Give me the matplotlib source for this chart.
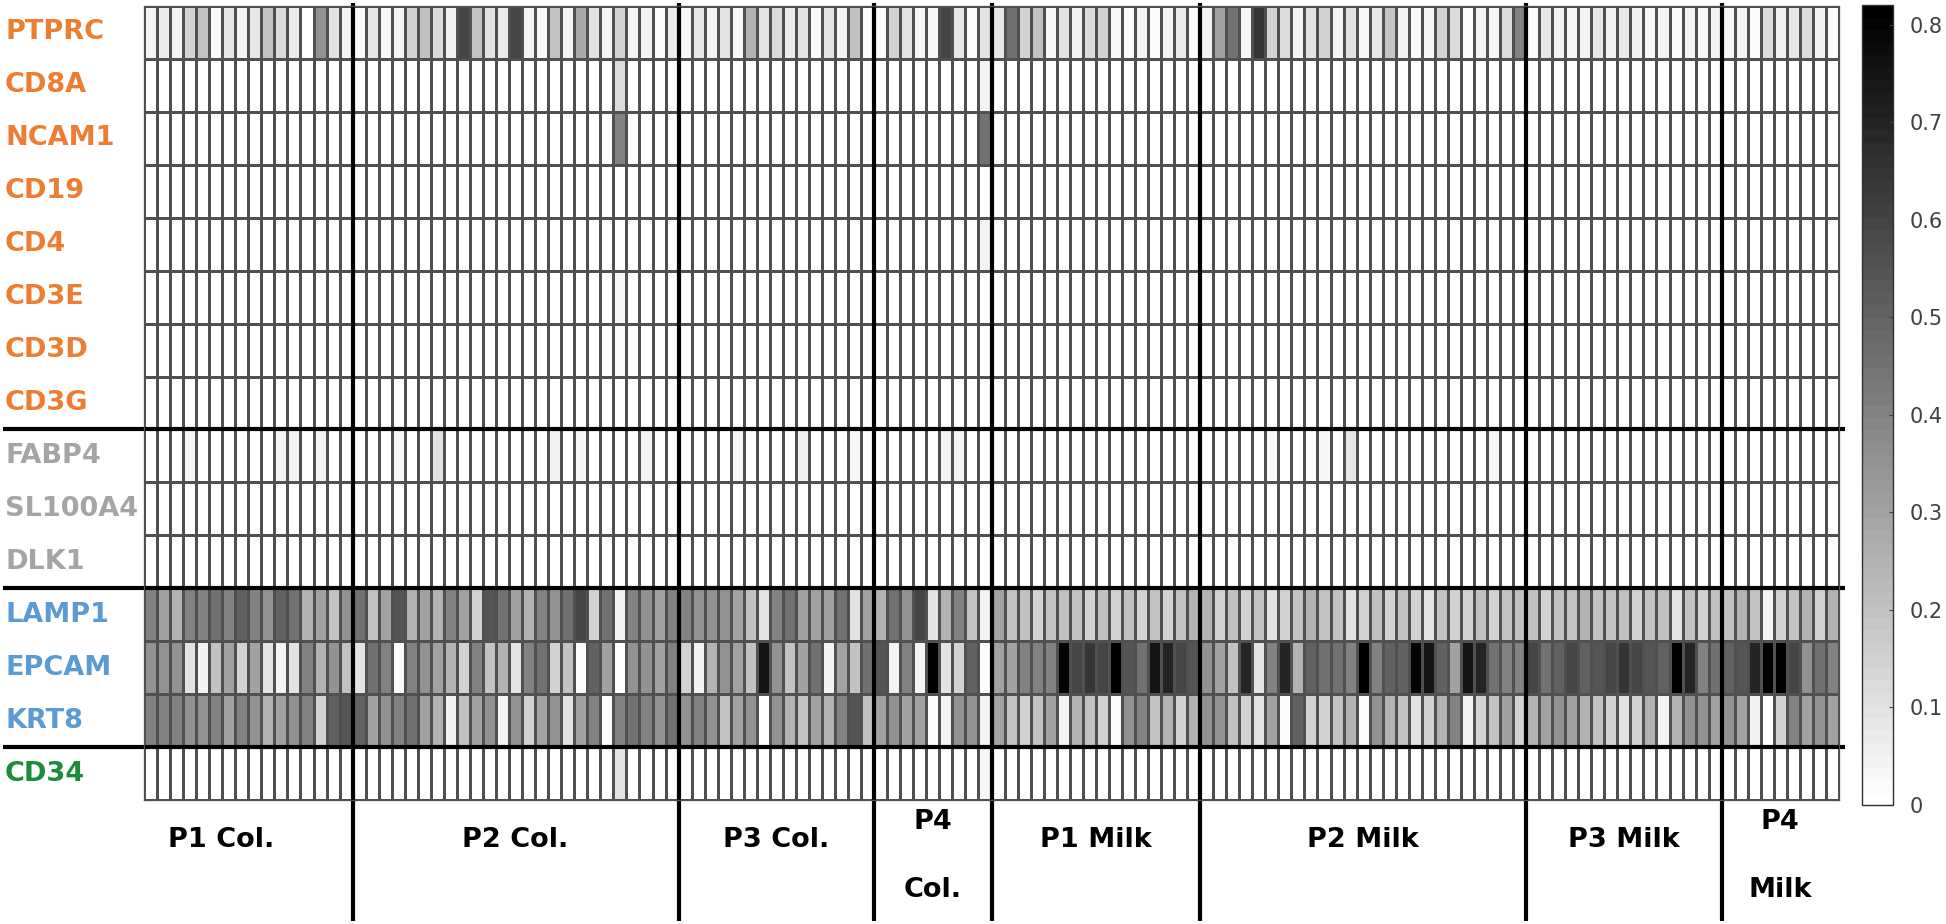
import numpy as np
import matplotlib
matplotlib.use('Agg')
import matplotlib.pyplot as plt
from matplotlib.colors import LinearSegmentedColormap

### DATA
genes = ['PTPRC', 'CD8A', 'NCAM1', 'CD19', 'CD4', 'CD3E', 'CD3D', 'CD3G',
         'FABP4', 'SL100A4', 'DLK1', 'LAMP1', 'EPCAM', 'KRT8', 'CD34']
gene_colors = ['#ED7D31'] * 8 + ['#A5A5A5'] * 3 + ['#5B9BD5'] * 3 + ['#1E8A3C']
groups = ['P1 Col.', 'P2 Col.', 'P3 Col.', 'P4\nCol.', 'P1 Milk', 'P2 Milk', 'P3 Milk', 'P4\nMilk']
group_sizes = [16, 25, 15, 9, 16, 25, 15, 9]
ncols = sum(group_sizes)

ptprc = [0.05, 0.07, 0.05, 0.15, 0.2, 0.02, 0.08, 0.05, 0.08, 0.2, 0.12, 0.07, 0.0, 0.35, 0.1, 0.05,
         0.02, 0.08, 0.03, 0.05, 0.15, 0.2, 0.12, 0.05, 0.6, 0.2, 0.1, 0.07, 0.6, 0.05, 0.03, 0.2, 0.05,
         0.28, 0.1, 0.05, 0.15, 0.05, 0.05, 0.02, 0.07,
         0.03, 0.08, 0.05, 0.1, 0.03, 0.25, 0.1, 0.12, 0.07, 0.1, 0.02, 0.1, 0.05, 0.2, 0.02,
         0.02, 0.15, 0.1, 0.03, 0.03, 0.6, 0.08, 0.02, 0.1,
         0.08, 0.45, 0.15, 0.2, 0.03, 0.1, 0.05, 0.12, 0.15, 0.03, 0.02, 0.05, 0.02, 0.05, 0.07, 0.02,
         0.05, 0.3, 0.45, 0.03, 0.65, 0.15, 0.12, 0.05, 0.1, 0.15, 0.05, 0.1, 0.03, 0.08, 0.18, 0.05,
         0.02, 0.03, 0.15, 0.12, 0.02, 0.05, 0.03, 0.12, 0.4,
         0.02, 0.08, 0.05, 0.03, 0.05, 0.08, 0.05, 0.08, 0.05, 0.03, 0.05, 0.02, 0.05, 0.03, 0.05,
         0.03, 0.05, 0.02, 0.12, 0.05, 0.08, 0.12, 0.05, 0.02]

lamp1 = [0.4, 0.3, 0.25, 0.4, 0.4, 0.45, 0.4, 0.5, 0.4, 0.35, 0.5, 0.45, 0.25, 0.3, 0.2, 0.35,
         0.45, 0.2, 0.3, 0.55, 0.25, 0.3, 0.25, 0.4, 0.3, 0.15, 0.55, 0.45, 0.3, 0.25, 0.4, 0.35, 0.45,
         0.6, 0.15, 0.45, 0.05, 0.4, 0.35, 0.3, 0.4,
         0.4, 0.35, 0.35, 0.35, 0.3, 0.2, 0.1, 0.4, 0.45, 0.3, 0.3, 0.3, 0.45, 0.1, 0.3,
         0.25, 0.45, 0.35, 0.6, 0.1, 0.25, 0.4, 0.2, 0.05,
         0.3, 0.2, 0.2, 0.15, 0.2, 0.2, 0.2, 0.15, 0.2, 0.15, 0.2, 0.15, 0.2, 0.15, 0.2, 0.25,
         0.25, 0.15, 0.2, 0.15, 0.2, 0.1, 0.15, 0.2, 0.25, 0.2, 0.2, 0.1, 0.15, 0.2, 0.15, 0.2,
         0.15, 0.1, 0.2, 0.15, 0.15, 0.2, 0.15, 0.2, 0.2,
         0.2, 0.15, 0.2, 0.2, 0.25, 0.2, 0.2, 0.2, 0.15, 0.2, 0.2, 0.1, 0.2, 0.15, 0.2,
         0.2, 0.25, 0.2, 0.05, 0.15, 0.2, 0.25, 0.15, 0.25]

epcam = [0.35, 0.35, 0.35, 0.1, 0.05, 0.2, 0.3, 0.15, 0.3, 0.1, 0.05, 0.1, 0.4, 0.25, 0.35, 0.2,
         0.1, 0.45, 0.4, 0.02, 0.4, 0.35, 0.3, 0.25, 0.15, 0.4, 0.2, 0.25, 0.1, 0.4, 0.45, 0.15, 0.2,
         0.02, 0.5, 0.3, 0.0, 0.35, 0.35, 0.3, 0.4,
         0.15, 0.05, 0.25, 0.35, 0.3, 0.2, 0.75, 0.35, 0.2, 0.3, 0.45, 0.05, 0.3, 0.2, 0.45,
         0.55, 0.05, 0.4, 0.05, 0.82, 0.1, 0.15, 0.5, 0.0,
         0.3, 0.3, 0.4, 0.4, 0.4, 0.8, 0.6, 0.65, 0.6, 0.85, 0.55, 0.45, 0.75, 0.7, 0.6, 0.55,
         0.35, 0.3, 0.2, 0.7, 0.1, 0.4, 0.7, 0.25, 0.5, 0.45, 0.45, 0.4, 0.85, 0.4, 0.5, 0.5,
         0.8, 0.75, 0.5, 0.3, 0.75, 0.7, 0.45, 0.4, 0.4,
         0.6, 0.45, 0.5, 0.6, 0.5, 0.55, 0.6, 0.65, 0.6, 0.55, 0.5, 0.85, 0.7, 0.4, 0.45,
         0.5, 0.55, 0.7, 0.85, 0.85, 0.6, 0.35, 0.45, 0.4]

krt8 = [0.4, 0.4, 0.4, 0.35, 0.35, 0.4, 0.3, 0.4, 0.35, 0.25, 0.3, 0.35, 0.4, 0.15, 0.5, 0.55,
        0.5, 0.3, 0.35, 0.4, 0.45, 0.3, 0.25, 0.05, 0.2, 0.3, 0.35, 0.05, 0.35, 0.15, 0.3, 0.35, 0.1,
        0.3, 0.4, 0.0, 0.4, 0.45, 0.4, 0.35, 0.45,
        0.35, 0.4, 0.35, 0.2, 0.3, 0.35, 0.0, 0.35, 0.25, 0.2, 0.3, 0.25, 0.4, 0.55, 0.2,
        0.3, 0.35, 0.3, 0.3, 0.02, 0.05, 0.35, 0.35, 0.05,
        0.3, 0.2, 0.15, 0.2, 0.3, 0.05, 0.25, 0.2, 0.15, 0.02, 0.35, 0.4, 0.2, 0.25, 0.15, 0.25,
        0.35, 0.35, 0.2, 0.15, 0.1, 0.3, 0.02, 0.5, 0.15, 0.15, 0.2, 0.25, 0.02, 0.35, 0.25, 0.2,
        0.1, 0.15, 0.25, 0.4, 0.05, 0.15, 0.2, 0.3, 0.15,
        0.25, 0.3, 0.35, 0.3, 0.25, 0.2, 0.15, 0.1, 0.15, 0.25, 0.05, 0.25, 0.35, 0.35, 0.3,
        0.35, 0.3, 0.05, 0.0, 0.15, 0.4, 0.3, 0.35, 0.3]

# sparse rows: {column index: value}, everything else is 0
cd8a = {36: 0.12, 64: 0.05}
ncam1 = {36: 0.4, 64: 0.45}
cd19 = {}
cd4 = {64: 0.05}
cd3e = {36: 0.03}
cd3d = {36: 0.02}
cd3g = {}
fabp4 = {3: 0.03, 10: 0.04, 11: 0.04, 13: 0.04, 19: 0.03, 22: 0.1, 31: 0.04, 33: 0.03, 38: 0.04,
         45: 0.03, 50: 0.04, 54: 0.03, 61: 0.04, 62: 0.04, 65: 0.02, 86: 0.02, 90: 0.03,
         92: 0.08, 103: 0.03}
sl100a4 = {}
dlk1 = {}
cd34 = {36: 0.1, 64: 0.03}

### BUILD MATRIX
def sparse_row(d):
    row = np.zeros(ncols)
    for k, v in d.items():
        row[k] = v
    return row

data = np.vstack([ptprc, sparse_row(cd8a), sparse_row(ncam1), sparse_row(cd19), sparse_row(cd4),
                  sparse_row(cd3e), sparse_row(cd3d), sparse_row(cd3g), sparse_row(fabp4),
                  sparse_row(sl100a4), sparse_row(dlk1), lamp1, epcam, krt8, sparse_row(cd34)])

### PLOT
W, H = 1946, 924
fig = plt.figure(figsize=(W / 100, H / 100), dpi=100)
x0, x1, y0, y1 = 144, 1839, 6, 800
ax = fig.add_axes([x0 / W, 1 - y1 / H, (x1 - x0) / W, (y1 - y0) / H])

cmap = LinearSegmentedColormap.from_list('wb', ['#ffffff', '#000000'], N=64)
mesh = ax.pcolormesh(data, cmap=cmap, vmin=0, vmax=0.82, edgecolors='#505050', linewidth=0.9)
ax.set_xlim(0, ncols)
ax.set_ylim(len(genes), 0)
ax.set_xticks([])
ax.set_yticks([])
for s in ax.spines.values():
    s.set_color('#505050')
    s.set_linewidth(0.9)

px = (x1 - x0) / ncols          # pixels per column
py = (y1 - y0) / len(genes)     # pixels per row

# gene labels
for i, (g, c) in enumerate(zip(genes, gene_colors)):
    ax.text((5 - x0) / px, i + 0.5, g, color=c, fontsize=19.5, fontweight='bold',
            ha='left', va='center', clip_on=False)

# thick separators between gene blocks
for r in [8, 11, 14]:
    ax.plot([(3 - x0) / px, ncols + 6 / px], [r, r], color='black', lw=3, clip_on=False,
            solid_capstyle='butt')

# thick separators between samples + sample labels
edges = np.concatenate([[0], np.cumsum(group_sizes)])
for b in edges[1:-1]:
    ax.plot([b, b], [-0.05, (921 - y0) / py], color='black', lw=3, clip_on=False,
            solid_capstyle='butt')
label_shift = {0: -2.1}   # first label sits left of its group centre in the original
for i, g in enumerate(groups):
    xc = (edges[i] + edges[i + 1]) / 2 + label_shift.get(i, 0)
    if '\n' in g:
        top, bot = g.split('\n')
        ax.text(xc, (822 - y0) / py, top, fontsize=19.5, fontweight='bold', ha='center', va='center')
        ax.text(xc, (890 - y0) / py, bot, fontsize=19.5, fontweight='bold', ha='center', va='center')
    else:
        ax.text(xc, (840 - y0) / py, g, fontsize=19.5, fontweight='bold', ha='center', va='center')

# colorbar
cax = fig.add_axes([1862 / W, 1 - 805 / H, 31 / W, 800 / H])
cb = fig.colorbar(mesh, cax=cax, ticks=np.arange(0, 0.81, 0.1))
cb.ax.set_yticklabels(['0', '0.1', '0.2', '0.3', '0.4', '0.5', '0.6', '0.7', '0.8'])
cb.ax.tick_params(labelsize=15, labelcolor='#404040', direction='in', length=3, color='#404040', pad=12)
cb.outline.set_edgecolor('#303030')
cb.outline.set_linewidth(1.0)

fig.savefig('out.png', dpi=100)
